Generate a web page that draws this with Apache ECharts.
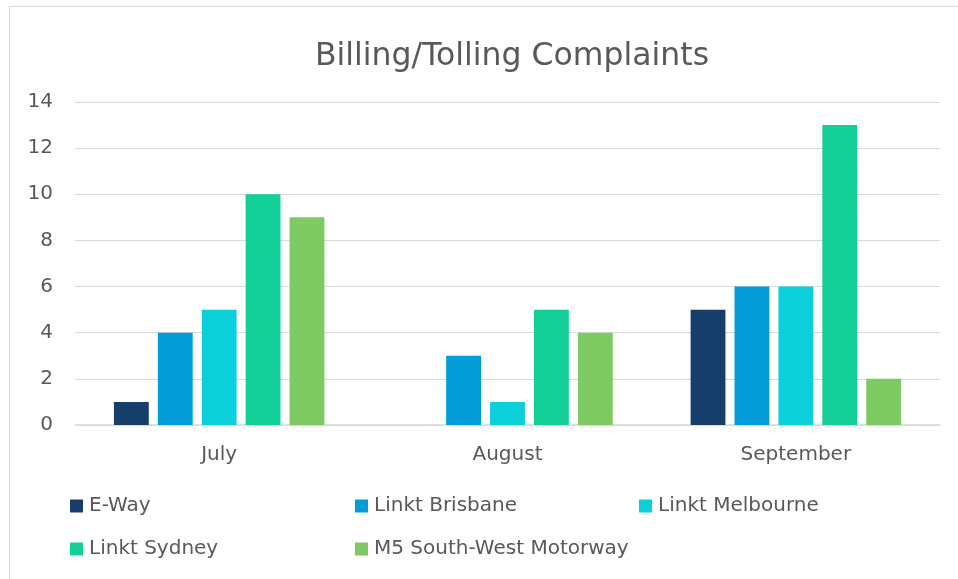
<!DOCTYPE html>
<html>
<head>
<meta charset="utf-8">
<script src="https://cdn.jsdelivr.net/npm/echarts@6/dist/echarts.min.js"></script>
<style>html,body{margin:0;padding:0;background:#fff}#c{width:958px;height:579px}</style>
</head>
<body>
<div id="c"></div>
<script>
const categories = ['July', 'August', 'September'];
const seriesNames = ['E-Way', 'Linkt Brisbane', 'Linkt Melbourne', 'Linkt Sydney', 'M5 South-West Motorway'];
const eWay = [1, 0, 5];
const linktBrisbane = [4, 3, 6];
const linktMelbourne = [5, 1, 6];
const linktSydney = [10, 5, 13];
const m5SouthWest = [9, 4, 2];
const yTicks = [0, 2, 4, 6, 8, 10, 12, 14];

const values = [eWay, linktBrisbane, linktMelbourne, linktSydney, m5SouthWest];
const colors = ['#173e6b', '#029dd8', '#0bd0d9', '#12cf98', '#7dcb62'];
const FONT = 'DejaVu Sans';
const TXT = '#595959';

const legendPos = [
  {left: 70, top: 496}, {left: 355, top: 496}, {left: 639, top: 496},
  {left: 70, top: 539}, {left: 355, top: 539}
];

const chart = echarts.init(document.getElementById('c'), null, {renderer: 'canvas'});
chart.setOption({
  animation: false,
  backgroundColor: '#fff',
  textStyle: {fontFamily: FONT},
  title: {
    text: 'Billing/Tolling Complaints',
    left: 315, top: 41, padding: 0,
    textStyle: {fontFamily: FONT, fontSize: 31.5, fontWeight: 'normal', color: TXT}
  },
  graphic: [{
    type: 'rect', silent: true,
    shape: {x: 9.5, y: 6.5, width: 1000, height: 1000},
    style: {fill: 'none', stroke: '#d9d9d9', lineWidth: 1}
  }],
  legend: seriesNames.map((n, i) => ({
    data: [n], left: legendPos[i].left, top: legendPos[i].top, padding: 0,
    itemWidth: 13, itemHeight: 13, itemGap: 0,
    icon: 'rect',
    textStyle: {fontFamily: FONT, fontSize: 20, color: TXT, padding: [0, 0, 0, 1]}
  })),
  grid: {left: 75, right: 18, top: 102, bottom: 154, containLabel: false},
  xAxis: {
    type: 'category', data: categories,
    axisLine: {lineStyle: {color: '#d9d9d9', width: 1.5}},
    axisTick: {show: false},
    axisLabel: {fontFamily: FONT, fontSize: 20, color: TXT, margin: 20}
  },
  yAxis: {
    type: 'value', min: yTicks[0], max: yTicks[yTicks.length - 1], interval: 2,
    axisLine: {show: false}, axisTick: {show: false},
    splitLine: {lineStyle: {color: '#d9d9d9', width: 1}},
    axisLabel: {fontFamily: FONT, fontSize: 20, color: TXT, margin: 22}
  },
  series: seriesNames.map((n, i) => ({
    name: n, type: 'bar', data: values[i],
    barGap: '26%', barCategoryGap: '27%',
    itemStyle: {color: colors[i]}
  }))
});
</script>
</body>
</html>
